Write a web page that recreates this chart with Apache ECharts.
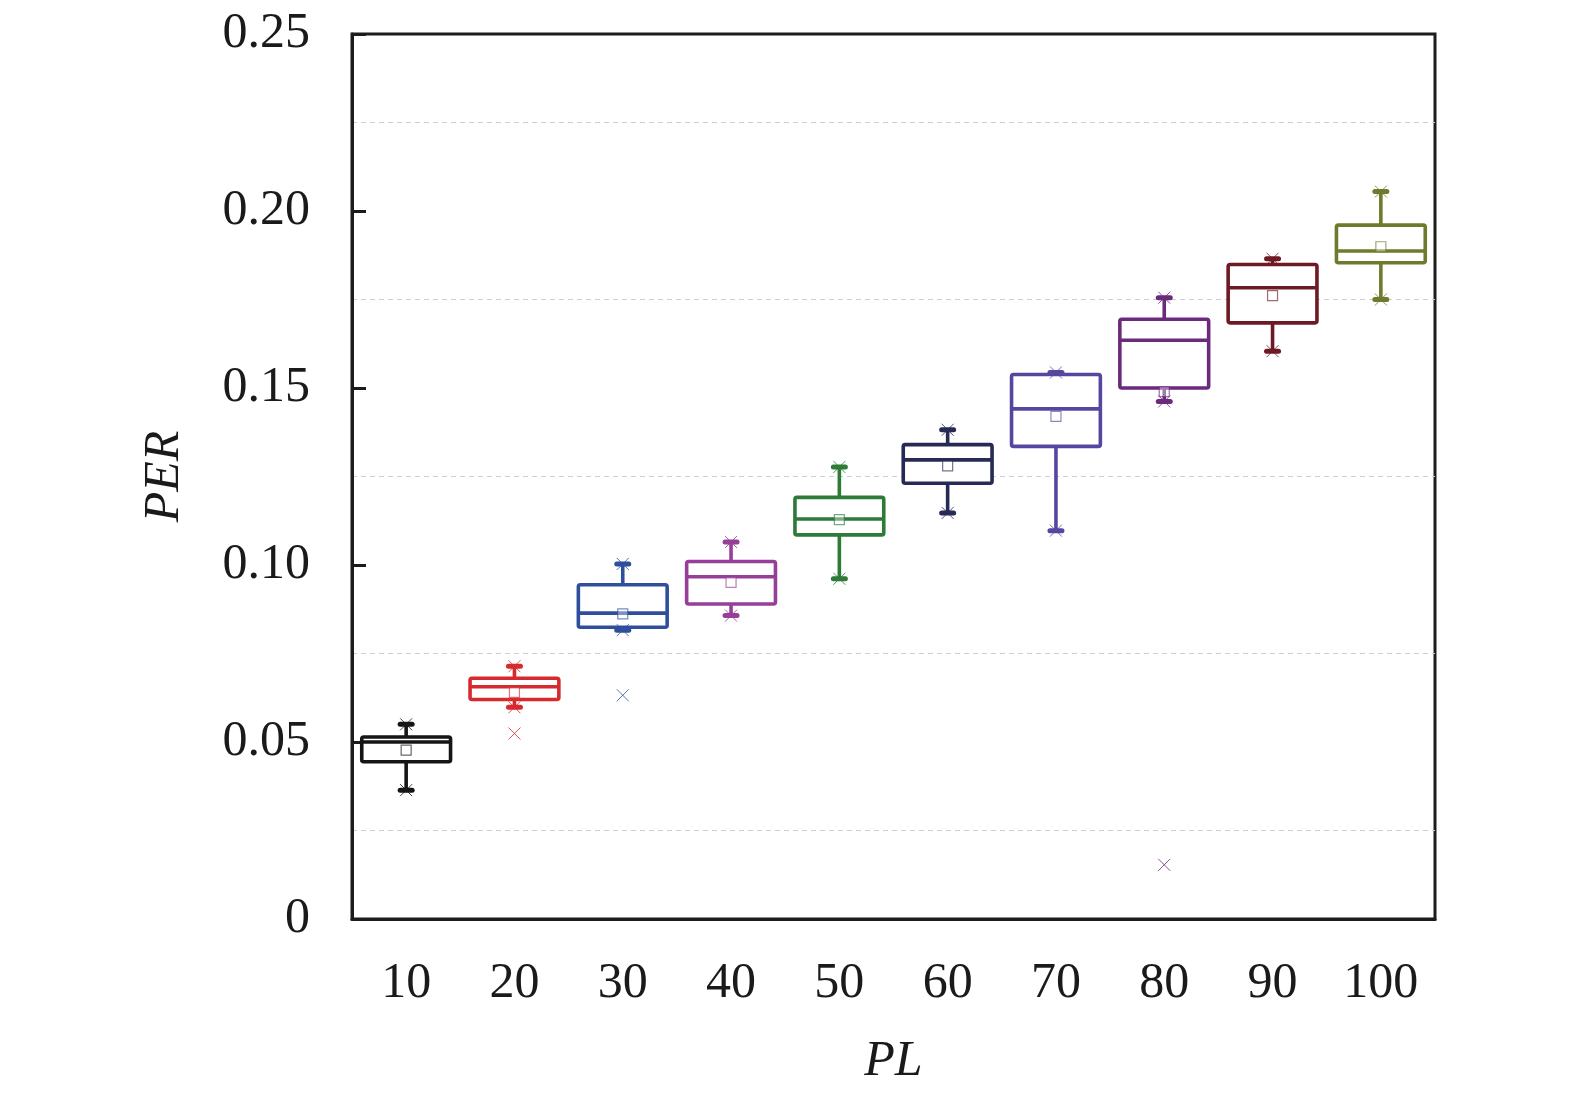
<!DOCTYPE html>
<html>
<head>
    <meta charset="utf-8">
    <title>PER vs PL</title>
    <script src="https://cdn.jsdelivr.net/npm/echarts@6/dist/echarts.min.js"></script>
    <style>
        html, body { margin: 0; padding: 0; background: #fff; }
        #mainChart { width: 1575px; height: 1097px; }
    </style>
</head>
<body>
<div id="mainChart"></div>
<script>
// 数据
const categories = ['10', '20', '30', '40', '50', '60', '70', '80', '90', '100'];
const lows    = [0.0364, 0.0598, 0.0816, 0.0857, 0.0961, 0.1147, 0.1097, 0.1462, 0.1604, 0.1750];
const q1s     = [0.0444, 0.0620, 0.0824, 0.0890, 0.1085, 0.1231, 0.1335, 0.1500, 0.1684, 0.1854];
const medians = [0.0500, 0.0656, 0.0864, 0.0967, 0.1130, 0.1297, 0.1441, 0.1635, 0.1783, 0.1887];
const q3s     = [0.0514, 0.0680, 0.0944, 0.1010, 0.1191, 0.1340, 0.1538, 0.1694, 0.1849, 0.1960];
const highs   = [0.0550, 0.0714, 0.1003, 0.1065, 0.1277, 0.1382, 0.1544, 0.1755, 0.1865, 0.2055];
const means   = [0.0477, 0.0640, 0.0862, 0.0951, 0.1128, 0.1280, 0.1420, 0.1490, 0.1761, 0.1899];
const outlierCats = [1, 2, 7];
const outlierVals = [0.0524, 0.0632, 0.0153];

const boxColors = ['#151515', '#d62a2e', '#2f4f9c', '#963f98', '#2e7a38', '#262a55',
                   '#5447a0', '#6c2a7c', '#6e1a24', '#6f7a2c'];

const serif = 'Liberation Serif';
const xMark = 'path://M0,0L10,10M10,0L0,10';

const chart = echarts.init(document.getElementById('mainChart'));

function renderBox(params, api) {
    const i = api.value(0);
    const x = api.coord([i, 0])[0];
    const yLow = api.coord([i, api.value(1)])[1];
    const yQ1 = api.coord([i, api.value(2)])[1];
    const yMed = api.coord([i, api.value(3)])[1];
    const yQ3 = api.coord([i, api.value(4)])[1];
    const yHigh = api.coord([i, api.value(5)])[1];
    const w = api.size([1, 0])[0] * 0.82;
    const c = boxColors[i];
    const cap = 12;
    const st = { stroke: c, lineWidth: 3.6, fill: null };
    return {
        type: 'group',
        children: [
            { type: 'line', shape: { x1: x, y1: yHigh, x2: x, y2: yQ3 }, style: st },
            { type: 'line', shape: { x1: x, y1: yQ1, x2: x, y2: yLow }, style: st },
            { type: 'line', shape: { x1: x - cap / 2, y1: yHigh, x2: x + cap / 2, y2: yHigh },
              style: { stroke: c, lineWidth: 5, lineCap: 'round' } },
            { type: 'line', shape: { x1: x - cap / 2, y1: yLow, x2: x + cap / 2, y2: yLow },
              style: { stroke: c, lineWidth: 5, lineCap: 'round' } },
            { type: 'rect', shape: { x: x - w / 2, y: yQ3, width: w, height: yQ1 - yQ3, r: 2 },
              style: { fill: '#fff', stroke: c, lineWidth: 3.6 } },
            { type: 'line', shape: { x1: x - w / 2, y1: yMed, x2: x + w / 2, y2: yMed }, style: st }
        ]
    };
}

const boxData = categories.map((c, i) => [i, lows[i], q1s[i], medians[i], q3s[i], highs[i]]);
const meanData = means.map((m, i) => ({
    value: [i, m],
    itemStyle: { borderColor: boxColors[i] }
}));
const endData = [];
categories.forEach((c, i) => {
    endData.push({ value: [i, lows[i]], itemStyle: { borderColor: boxColors[i] } });
    endData.push({ value: [i, highs[i]], itemStyle: { borderColor: boxColors[i] } });
});
const outlierData = outlierCats.map((ci, k) => ({
    value: [ci, outlierVals[k]],
    itemStyle: { borderColor: boxColors[ci] }
}));

const option = {
    backgroundColor: '#fff',
    animation: false,
    grid: {
        left: 352, right: 140, top: 34, bottom: 178,
        show: true, borderColor: '#1c1c1c', borderWidth: 3
    },
    xAxis: {
        type: 'category',
        data: categories,
        boundaryGap: true,
        name: 'PL',
        nameLocation: 'middle',
        nameGap: 118,
        nameTextStyle: { fontFamily: serif, fontStyle: 'italic', fontSize: 50, color: '#1a1a1a' },
        axisLine: { lineStyle: { color: '#1c1c1c', width: 3 } },
        axisTick: { inside: true, alignWithLabel: true, length: 13, lineStyle: { color: '#1c1c1c', width: 3 } },
        axisLabel: { fontFamily: serif, fontSize: 50, color: '#1a1a1a', margin: 40 },
        splitLine: { show: false }
    },
    yAxis: {
        type: 'value',
        min: 0, max: 0.25, interval: 0.05,
        name: 'PER',
        nameLocation: 'middle',
        nameGap: 162,
        nameTextStyle: { fontFamily: serif, fontStyle: 'italic', fontSize: 50, color: '#1a1a1a' },
        axisLine: { show: true, lineStyle: { color: '#1c1c1c', width: 3 } },
        axisTick: { show: true, inside: true, length: 14, lineStyle: { color: '#1c1c1c', width: 3 } },
        axisLabel: {
            fontFamily: serif, fontSize: 50, color: '#1a1a1a', margin: 42,
            formatter: v => v === 0 ? '0' : v.toFixed(2)
        },
        splitLine: { show: false },
        minorTick: { show: false, splitNumber: 2 },
        minorSplitLine: { show: true, lineStyle: { color: '#cfcfcf', width: 1, type: [5, 4] } }
    },
    series: [
        {
            type: 'custom',
            renderItem: renderBox,
            encode: { x: 0, y: [1, 2, 3, 4, 5] },
            data: boxData,
            z: 2
        },
        {
            type: 'scatter',
            symbol: xMark,
            symbolSize: 12,
            itemStyle: { color: 'none', borderWidth: 1, opacity: 0.8 },
            data: endData,
            z: 3
        },
        {
            type: 'scatter',
            symbol: 'rect',
            symbolSize: 10,
            itemStyle: { color: 'rgba(255,255,255,0.6)', borderWidth: 1.2, opacity: 0.65 },
            data: meanData,
            z: 4
        },
        {
            type: 'scatter',
            symbol: xMark,
            symbolSize: 12,
            itemStyle: { color: 'none', borderWidth: 1 },
            data: outlierData,
            z: 4
        }
    ]
};

chart.setOption(option);
</script>
</body>
</html>
